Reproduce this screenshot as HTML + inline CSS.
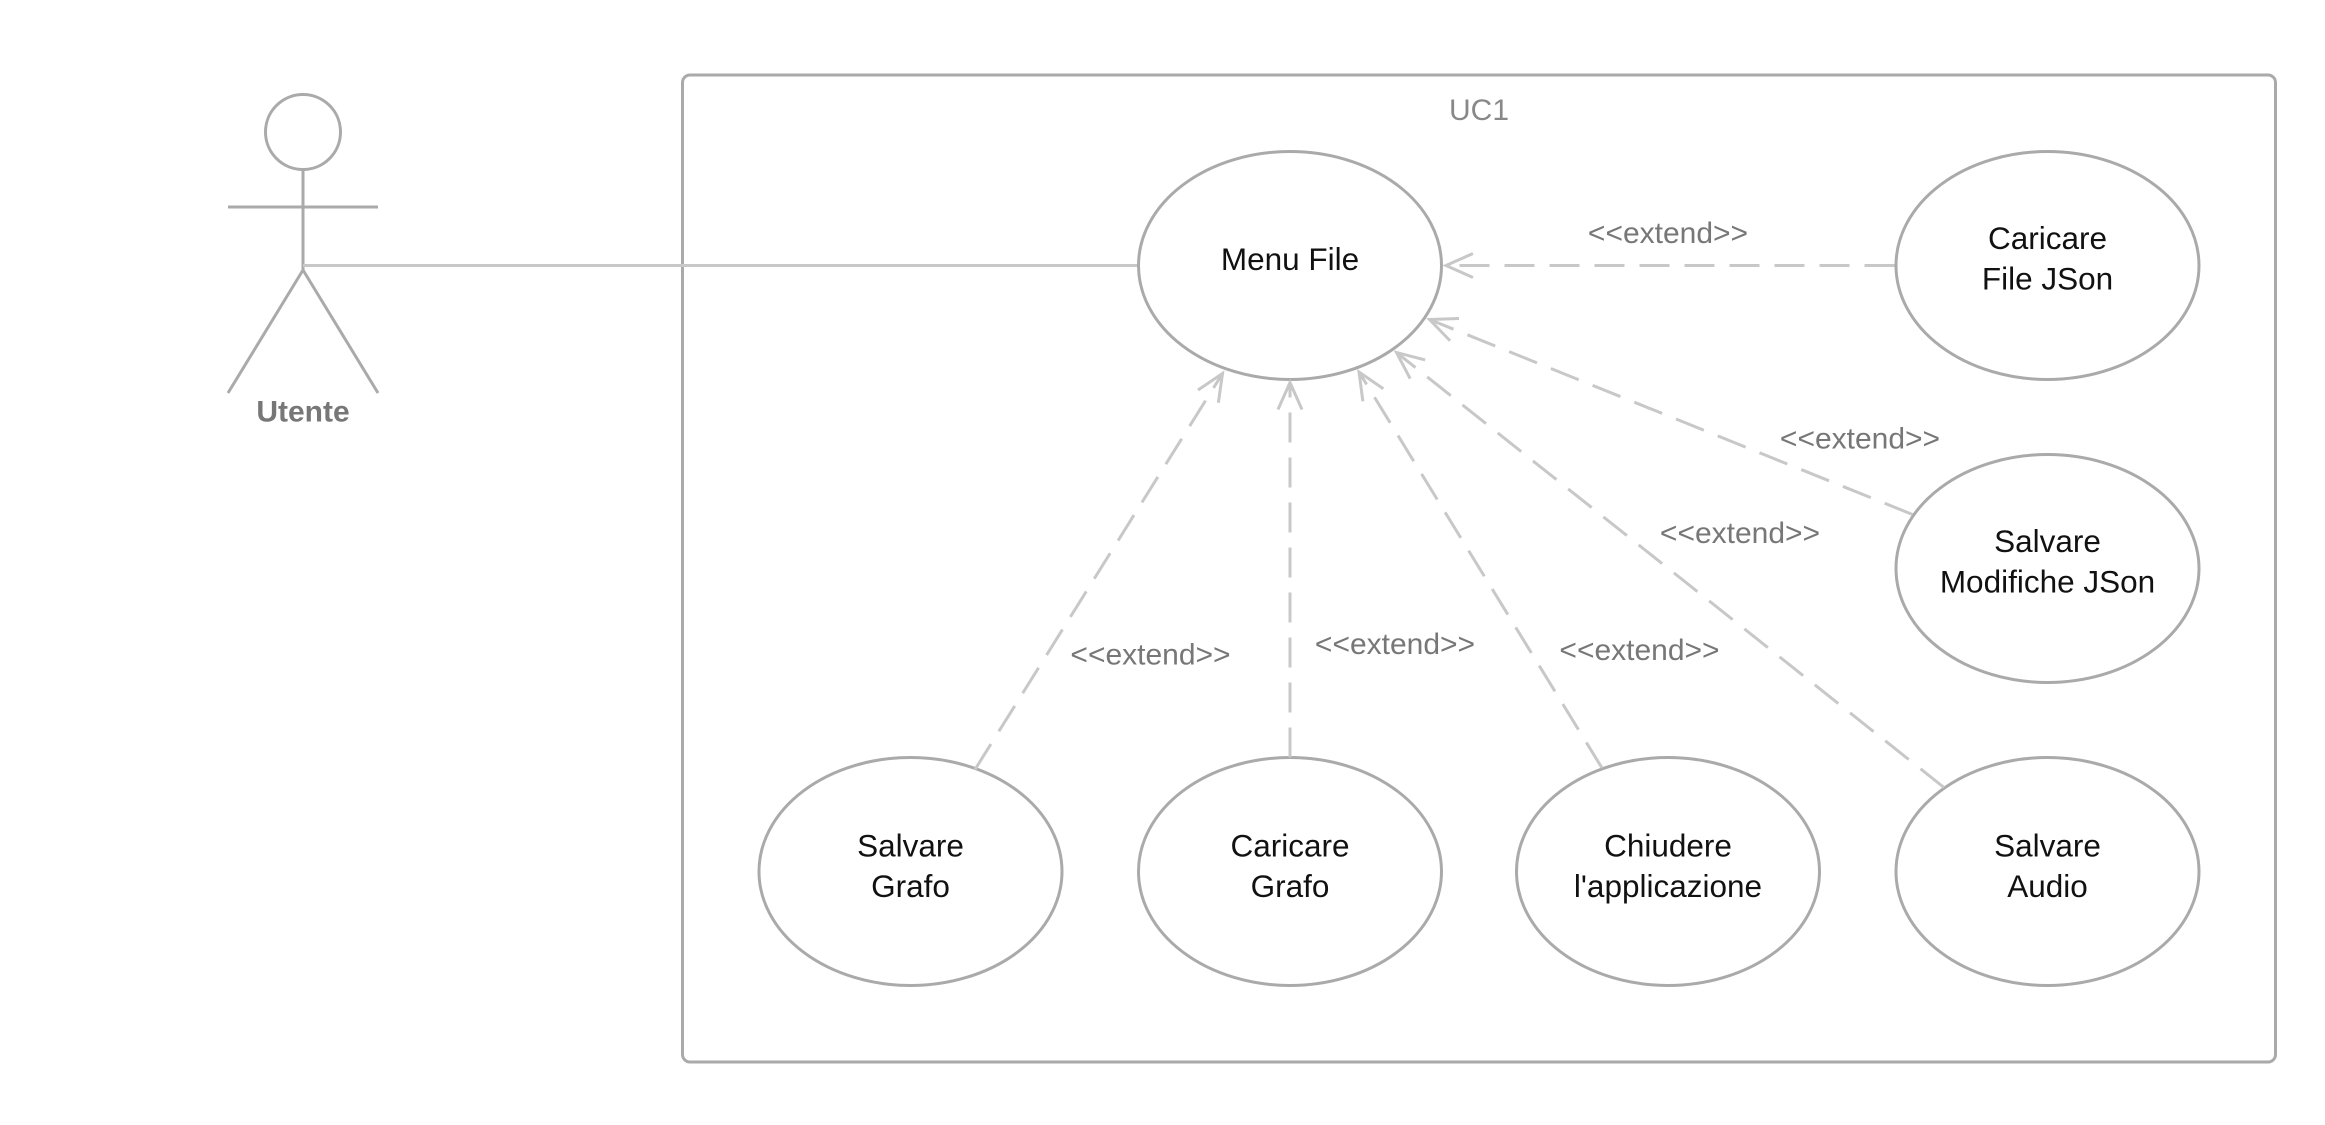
<!DOCTYPE html>
<html><head><meta charset="utf-8"><style>
html,body{margin:0;padding:0;background:#fff;}
svg{display:block}
text{font-family:"Liberation Sans",sans-serif;}
</style></head><body>
<svg width="2325" height="1125" viewBox="0 0 1550 750" xmlns="http://www.w3.org/2000/svg">
<defs>
<marker id="a" markerWidth="22" markerHeight="22" refX="19" refY="10" orient="auto" markerUnits="userSpaceOnUse">
<path d="M1,2 L19,10 L1,18" fill="none" stroke="#c8c8c8" stroke-width="2"/>
</marker>
</defs>
<rect x="455" y="50" width="1062" height="658" rx="5" fill="none" stroke="#aaa" stroke-width="2"/>
<text x="986" y="80" font-size="20" fill="#888" text-anchor="middle">UC1</text>
<g stroke="#aaa" stroke-width="2" fill="none">
<circle cx="202" cy="88" r="25"/>
<line x1="202" y1="113" x2="202" y2="180"/>
<line x1="152" y1="138" x2="252" y2="138"/>
<line x1="202" y1="180" x2="152" y2="262"/>
<line x1="202" y1="180" x2="252" y2="262"/>
</g>
<text x="202" y="281" font-size="20" font-weight="bold" fill="#777" text-anchor="middle">Utente</text>
<line x1="202" y1="177" x2="759" y2="177" stroke="#c8c8c8" stroke-width="2"/>
<g fill="#fff" stroke="#aaa" stroke-width="2">
<ellipse cx="860" cy="177" rx="101" ry="76"/>
<ellipse cx="1365" cy="177" rx="101" ry="76"/>
<ellipse cx="1365" cy="379" rx="101" ry="76"/>
<ellipse cx="607" cy="581" rx="101" ry="76"/>
<ellipse cx="860" cy="581" rx="101" ry="76"/>
<ellipse cx="1112" cy="581" rx="101" ry="76"/>
<ellipse cx="1365" cy="581" rx="101" ry="76"/>
</g>
<g stroke="#c8c8c8" stroke-width="2" stroke-dasharray="20,10" fill="none" marker-end="url(#a)">
<line x1="1263" y1="177" x2="964" y2="177"/>
<line x1="1275" y1="343" x2="953" y2="213"/>
<line x1="1296" y1="525" x2="931" y2="235"/>
<line x1="1068" y1="512" x2="906" y2="248"/>
<line x1="860" y1="505" x2="860" y2="255"/>
<line x1="650" y1="513" x2="815" y2="249"/>
</g>
<g font-size="20" fill="#777" text-anchor="middle">
<text x="1112" y="162">&lt;&lt;extend&gt;&gt;</text>
<text x="1240" y="299">&lt;&lt;extend&gt;&gt;</text>
<text x="1160" y="362">&lt;&lt;extend&gt;&gt;</text>
<text x="1093" y="440">&lt;&lt;extend&gt;&gt;</text>
<text x="930" y="436">&lt;&lt;extend&gt;&gt;</text>
<text x="767" y="443">&lt;&lt;extend&gt;&gt;</text>
</g>
<g font-size="21" fill="#111" text-anchor="middle">
<text x="860" y="180">Menu File</text>
<text x="1365" y="166">Caricare</text><text x="1365" y="193">File JSon</text>
<text x="1365" y="368">Salvare</text><text x="1365" y="395">Modifiche JSon</text>
<text x="607" y="571">Salvare</text><text x="607" y="598">Grafo</text>
<text x="860" y="571">Caricare</text><text x="860" y="598">Grafo</text>
<text x="1112" y="571">Chiudere</text><text x="1112" y="598">l'applicazione</text>
<text x="1365" y="571">Salvare</text><text x="1365" y="598">Audio</text>
</g>
</svg>
</body></html>
